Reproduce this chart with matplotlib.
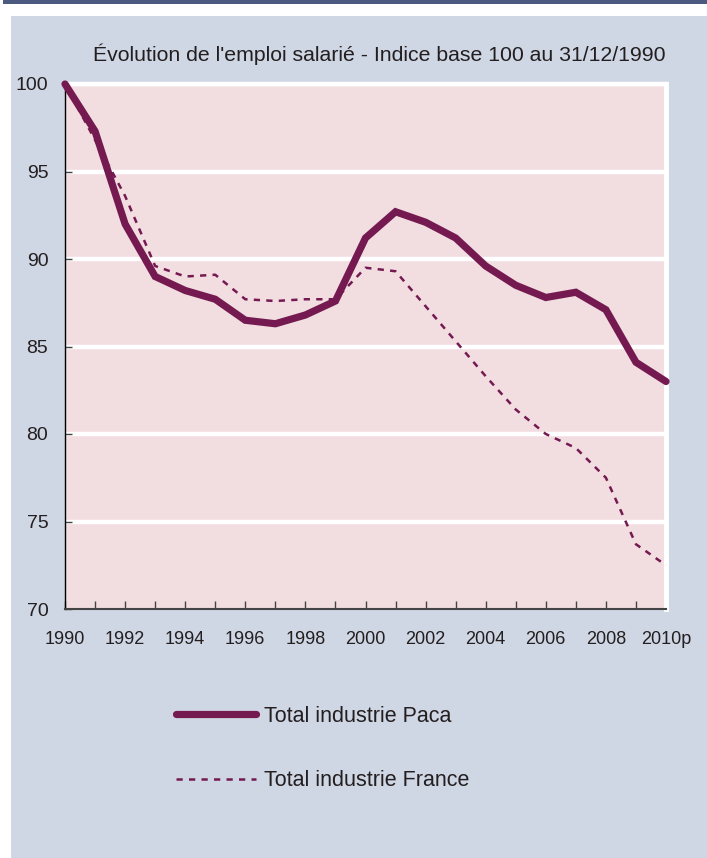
import matplotlib
matplotlib.use("Agg")
import matplotlib.pyplot as plt
from matplotlib.patches import Rectangle

plt.rcParams['font.family'] = ['Liberation Sans', 'DejaVu Sans']

# data
years = list(range(1990, 2011))
year_labels = ['1990', '1992', '1994', '1996', '1998', '2000', '2002',
               '2004', '2006', '2008', '2010p']
paca = [100.0, 97.3, 92.0, 89.0, 88.2, 87.7, 86.5, 86.3, 86.8, 87.6,
        91.2, 92.7, 92.1, 91.2, 89.6, 88.5, 87.8, 88.1, 87.1, 84.1, 83.0]
france = [100.0, 96.8, 93.6, 89.6, 89.0, 89.1, 87.7, 87.6, 87.7, 87.7,
          89.5, 89.3, 87.3, 85.3, 83.3, 81.4, 80.0, 79.2, 77.5, 73.7, 72.5]
series_names = ['Total industrie Paca', 'Total industrie France']
title = "Évolution de l'emploi salarié - Indice base 100 au 31/12/1990"

LINE = '#741A50'
PINK = '#F2DDE1'
PANEL = '#CFD6E4'
BAND = '#4B5A7E'
TXT = '#231F20'

W, H = 707, 858
fig = plt.figure(figsize=(W / 100, H / 100), dpi=100)
fig.patch.set_facecolor('white')

# background panel and top band
fig.patches.append(Rectangle((11 / W, 0), 1, 1 - 16 / H, transform=fig.transFigure,
                             facecolor=PANEL, edgecolor='none', zorder=-2))
fig.patches.append(Rectangle((3 / W, 1 - 4 / H), 1, 4 / H, transform=fig.transFigure,
                             facecolor=BAND, edgecolor='none', zorder=-2))

left, right = 65 / W, 666 / W
bottom, top = 1 - 609 / H, 1 - 84 / H
ax = fig.add_axes([left, bottom, right - left, top - bottom])
ax.set_zorder(1)
ax.set_facecolor(PINK)

ax.plot(years, paca, color=LINE, lw=5.2, solid_capstyle='round',
        solid_joinstyle='miter', label=series_names[0], zorder=4, clip_on=False)
ax.plot(years, france, color=LINE, lw=1.8, linestyle=(0, (2.5, 2.5)),
        label=series_names[1], zorder=3, clip_on=False)

ax.set_xlim(1990, 2010)
ax.set_ylim(70, 100)
ax.set_yticks(range(70, 101, 5))
ax.set_xticks(years)
ax.set_xticklabels([year_labels[i // 2] if i % 2 == 0 else '' for i in range(len(years))])

for y in range(75, 101, 5):
    ax.axhline(y, color='white', lw=3.2, zorder=1)

ax.spines['top'].set_color('white')
ax.spines['top'].set_linewidth(3.2)
ax.spines['right'].set_color('white')
ax.spines['right'].set_linewidth(3.5)
ax.spines['left'].set_color('black')
ax.spines['left'].set_linewidth(1.0)
ax.spines['bottom'].set_color('#444444')
ax.spines['bottom'].set_linewidth(1.5)

ax.tick_params(axis='y', direction='in', length=5, width=1, color='#444444',
               labelsize=14, labelcolor=TXT, pad=12)
ax.tick_params(axis='x', direction='in', length=6, width=1, color='#444444',
               labelsize=13, labelcolor=TXT, pad=16)

fig.text(379 / W, 1 - 54 / H, title, ha='center', va='center',
         fontsize=15.3, color=TXT)

fig.legend(loc='upper left', bbox_to_anchor=(176 / W, 1 - 706 / H),
           bbox_transform=fig.transFigure, frameon=False, fontsize=15.5,
           handlelength=3.7, handletextpad=0.4, labelspacing=2.0,
           borderpad=0, borderaxespad=0, labelcolor=TXT)

fig.savefig('out.png', dpi=100)
